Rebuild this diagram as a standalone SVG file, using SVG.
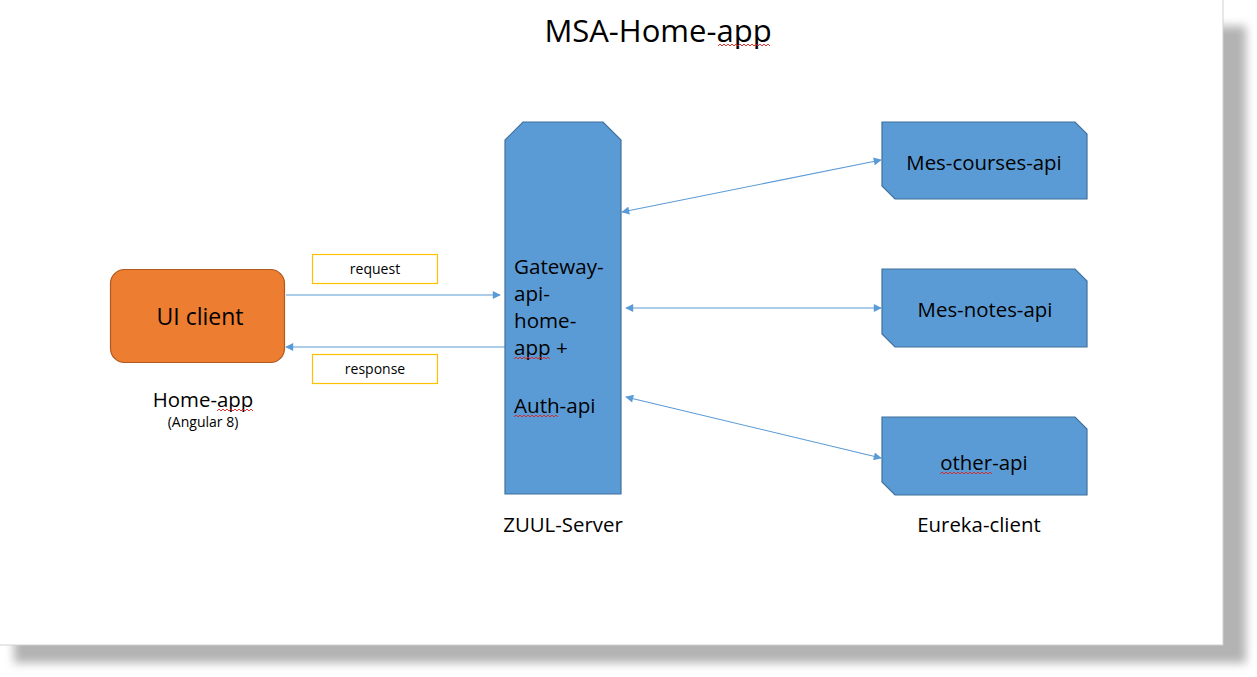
<svg xmlns="http://www.w3.org/2000/svg" width="1257" height="677" viewBox="0 0 1257 677">
<style>
.t{font-family:"Open Sans","Liberation Sans",sans-serif;fill:#000}
.blue{fill:#5B9BD5;stroke:#41719C;stroke-width:1.2}
.lbl{fill:#fff;stroke:#FFC000;stroke-width:1.2}
.con{stroke:#5B9BD5;stroke-width:1.1;fill:none}
.sq{stroke:#E02020;stroke-width:0.9;fill:none}
</style>
<defs>
<filter id="blur" x="-5%" y="-5%" width="110%" height="110%"><feGaussianBlur stdDeviation="5"/></filter>
<marker id="ah" viewBox="0 0 10 10" refX="9" refY="5" markerWidth="9" markerHeight="8" markerUnits="userSpaceOnUse" orient="auto-start-reverse"><path d="M0,0 L10,5 L0,10 z" fill="#5B9BD5"/></marker>
</defs>
<rect width="1257" height="677" fill="#fff"/>
<rect x="14" y="26" width="1232" height="637" fill="#b3b3b3" filter="url(#blur)"/>
<rect x="-1" y="-1" width="1224" height="646" fill="#fff" stroke="#d0d0d0" stroke-width="1"/>
<text class="t" x="658" y="42" font-size="31" text-anchor="middle">MSA-Home-app</text>
<path class="sq" d="M718,46 l2,-2 l2,2 l2,-2 l2,2 l2,-2 l2,2 l2,-2 l2,2 l2,-2 l2,2 l2,-2 l2,2 l2,-2 l2,2 l2,-2 l2,2 l2,-2 l2,2 l2,-2 l2,2 l2,-2 l2,2 l2,-2 l2,2 l2,-2 l2,2"/>
<g id="connectors">
<line class="con" x1="286" y1="295" x2="500" y2="295" marker-end="url(#ah)"/>
<line class="con" x1="505" y1="347" x2="286" y2="347" marker-end="url(#ah)"/>
<line class="con" x1="622" y1="212" x2="881" y2="160" marker-start="url(#ah)" marker-end="url(#ah)"/>
<line class="con" x1="626" y1="308" x2="881" y2="308" marker-start="url(#ah)" marker-end="url(#ah)"/>
<line class="con" x1="626" y1="397" x2="881" y2="458" marker-start="url(#ah)" marker-end="url(#ah)"/>
</g>
<g id="request">
<rect class="lbl" x="312.5" y="254.5" width="125" height="29"/>
<text class="t" x="375" y="274" font-size="14" text-anchor="middle">request</text>
</g>
<g id="response">
<rect class="lbl" x="312.5" y="354.5" width="125" height="29"/>
<text class="t" x="375" y="374" font-size="14" text-anchor="middle">response</text>
</g>
<g id="ui-client">
<rect x="110.5" y="269.5" width="174" height="93" rx="14" fill="#ED7D31" stroke="#AE5A21" stroke-width="1.2"/>
<text class="t" x="200" y="325" font-size="23" text-anchor="middle">UI client</text>
<text class="t" x="203" y="407" font-size="20.4" text-anchor="middle">Home-app</text>
<path class="sq" d="M217,411 l2,-2 l2,2 l2,-2 l2,2 l2,-2 l2,2 l2,-2 l2,2 l2,-2 l2,2 l2,-2 l2,2 l2,-2 l2,2 l2,-2 l2,2 l2,-2 l2,2"/>
<text class="t" x="203" y="427" font-size="14" text-anchor="middle">(Angular 8)</text>
</g>
<g id="gateway">
<path class="blue" d="M523,122 L603,122 L621,140 L621,494 L505,494 L505,140 Z"/>
<text class="t" x="514" y="274" font-size="20.6">Gateway-</text>
<text class="t" x="514" y="301" font-size="20.6">api-</text>
<text class="t" x="514" y="328" font-size="20.6">home-</text>
<text class="t" x="514" y="355" font-size="20.6">app +</text>
<path class="sq" d="M514,359 l2,-2 l2,2 l2,-2 l2,2 l2,-2 l2,2 l2,-2 l2,2 l2,-2 l2,2 l2,-2 l2,2 l2,-2 l2,2 l2,-2 l2,2 l2,-2 l2,2"/>
<text class="t" x="514" y="413" font-size="20.6">Auth-api</text>
<path class="sq" d="M514,417 l2,-2 l2,2 l2,-2 l2,2 l2,-2 l2,2 l2,-2 l2,2 l2,-2 l2,2 l2,-2 l2,2 l2,-2 l2,2 l2,-2 l2,2 l2,-2 l2,2 l2,-2 l2,2 l2,-2 l2,2"/>
<text class="t" x="563" y="532" font-size="20.4" text-anchor="middle">ZUUL-Server</text>
</g>
<g id="mes-courses-api">
<path class="blue" d="M882,122 L1075,122 L1087,134 L1087,199 L895,199 L882,186 Z"/>
<text class="t" x="984" y="170" font-size="20.4" text-anchor="middle">Mes-courses-api</text>
</g>
<g id="mes-notes-api">
<path class="blue" d="M882,269 L1075,269 L1087,281 L1087,347 L895,347 L882,334 Z"/>
<text class="t" x="985" y="317" font-size="20.4" text-anchor="middle">Mes-notes-api</text>
</g>
<g id="other-api">
<path class="blue" d="M882,417 L1075,417 L1087,429 L1087,495 L895,495 L882,482 Z"/>
<text class="t" x="984" y="470" font-size="20.4" text-anchor="middle">other-api</text>
<path class="sq" d="M940,474 l2,-2 l2,2 l2,-2 l2,2 l2,-2 l2,2 l2,-2 l2,2 l2,-2 l2,2 l2,-2 l2,2 l2,-2 l2,2 l2,-2 l2,2 l2,-2 l2,2 l2,-2 l2,2 l2,-2 l2,2 l2,-2 l2,2 l2,-2 l2,2"/>
<text class="t" x="979" y="532" font-size="20.4" text-anchor="middle">Eureka-client</text>
</g>
</svg>
